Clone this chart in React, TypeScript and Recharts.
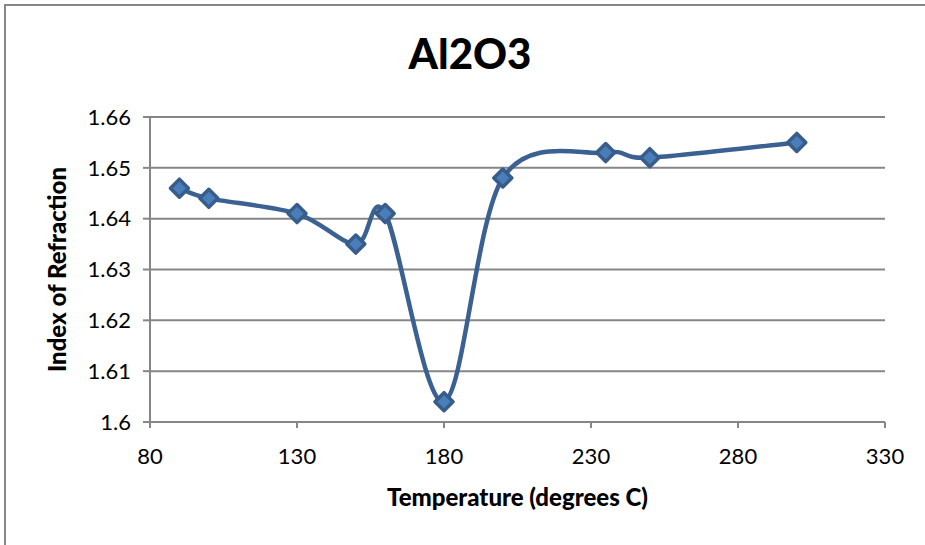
import { LineChart, Line, XAxis, YAxis, CartesianGrid } from "recharts"

const temperatures = [90, 100, 130, 150, 160, 180, 200, 235, 250, 300]
const refractionIndex = [1.646, 1.644, 1.641, 1.635, 1.641, 1.604, 1.648, 1.653, 1.652, 1.655]
const xTicks = [80, 130, 180, 230, 280, 330]
const yTicks = [1.6, 1.61, 1.62, 1.63, 1.64, 1.65, 1.66]

const data = temperatures.map((t, i) => ({ t, n: refractionIndex[i] }))

const FONT = "Lato, 'Noto Sans', sans-serif"
const GRID = "#868686"

// Excel-style smoothed line: cubic bezier through every point (catmull-rom, 1/6 tension)
function excelSmooth(ctx: any) {
  let pts: number[][] = []
  return {
    areaStart() {},
    areaEnd() {},
    lineStart() { pts = [] },
    point(x: number, y: number) { pts.push([+x, +y]) },
    lineEnd() {
      if (!pts.length) return
      ctx.moveTo(pts[0][0], pts[0][1])
      for (let i = 0; i < pts.length - 1; i++) {
        const p0 = pts[Math.max(i - 1, 0)]
        const p1 = pts[i]
        const p2 = pts[i + 1]
        const p3 = pts[Math.min(i + 2, pts.length - 1)]
        ctx.bezierCurveTo(
          p1[0] + (p2[0] - p0[0]) / 6, p1[1] + (p2[1] - p0[1]) / 6,
          p2[0] - (p3[0] - p1[0]) / 6, p2[1] - (p3[1] - p1[1]) / 6,
          p2[0], p2[1]
        )
      }
    },
  }
}

const Diamond = (props: any) => {
  const { cx, cy, index } = props
  if (cx == null || cy == null) return null
  const r = 9
  return (
    <polygon
      key={index}
      points={`${cx},${cy - r} ${cx + r},${cy} ${cx},${cy + r} ${cx - r},${cy}`}
      fill="#4a7ebb"
      stroke="#385d8a"
      strokeWidth={3.5}
      strokeLinejoin="round"
    />
  )
}

export default function App() {
  return (
    <div style={{ position: "absolute", left: 0, top: 0, width: 925, height: 545, background: "#fff", overflow: "hidden" }}>
      <div style={{ position: "absolute", left: 4, top: 4, width: 940, height: 560, borderLeft: "2px solid #878787", borderTop: "2px solid #878787" }} />
      <div style={{ position: "absolute", left: 0, width: 940, top: 28, textAlign: "center", fontFamily: FONT, fontWeight: 900, fontSize: 42, color: "#000" }}>
        Al2O3
      </div>
      <div style={{ position: "absolute", left: 0, top: 0 }}>
        <LineChart width={925} height={545} data={data} margin={{ top: 117, right: 40, bottom: 33, left: 40 }}>
          <CartesianGrid horizontal vertical={false} stroke={GRID} strokeWidth={2} />
          <XAxis
            type="number"
            dataKey="t"
            domain={[80, 330]}
            ticks={xTicks}
            interval={0}
            height={90}
            stroke={GRID}
            strokeWidth={2}
            tickSize={6}
            tickMargin={20}
            tick={{ fill: "#000", fontSize: 22, fontFamily: FONT }}
            label={{ value: "Temperature (degrees C)", position: "insideBottom", offset: 6, style: { fill: "#000", fontSize: 24, fontWeight: 900, fontFamily: FONT } }}
          />
          <YAxis
            type="number"
            domain={[1.6, 1.66]}
            ticks={yTicks}
            interval={0}
            width={110}
            stroke={GRID}
            strokeWidth={2}
            tickSize={7}
            tickMargin={12}
            tick={{ fill: "#000", fontSize: 22, fontFamily: FONT }}
            label={{ value: "Index of Refraction", angle: -90, position: "insideLeft", offset: 17, style: { textAnchor: "middle", fill: "#000", fontSize: 24, fontWeight: 900, fontFamily: FONT } }}
          />
          <Line
            dataKey="n"
            type={excelSmooth as any}
            stroke="#3a6191"
            strokeWidth={4.5}
            dot={<Diamond />}
            activeDot={false}
            isAnimationActive={false}
          />
        </LineChart>
      </div>
    </div>
  )
}
